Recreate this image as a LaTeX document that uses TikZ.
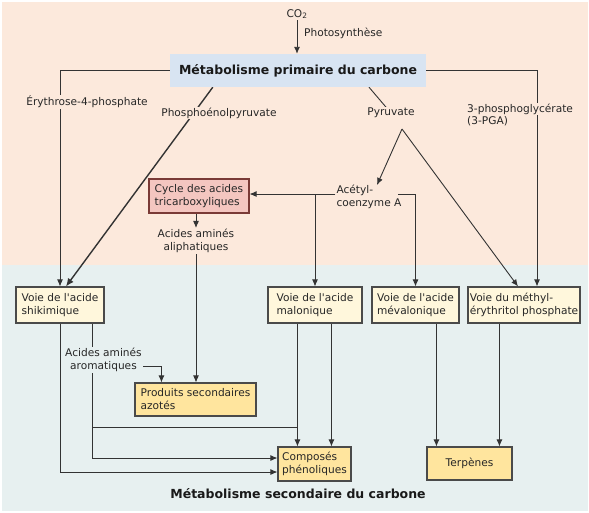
\documentclass[tikz,border=0pt]{standalone}
\usepackage{fontspec}
\setmainfont{DejaVu Sans}
\usetikzlibrary{arrows.meta,calc}
\pgfdeclarelayer{back}
\pgfdeclarelayer{lines}
\pgfsetlayers{back,lines,main}
\definecolor{topbg}{HTML}{FCE9DC}
\definecolor{botbg}{HTML}{E7F0F0}
\definecolor{primbg}{HTML}{D8E4F2}
\definecolor{cyclebg}{HTML}{F4C6C0}
\definecolor{cyclebd}{HTML}{7A3A36}
\definecolor{cream}{HTML}{FFF7DC}
\definecolor{yell}{HTML}{FFE59E}
\definecolor{bd}{HTML}{4A4A4A}
\definecolor{ln}{HTML}{333333}
\begin{document}
\begin{tikzpicture}[x=1pt,y=-1pt,
  txt/.style={font=\fontsize{10.6}{13}\selectfont, inner sep=1pt, align=left, text=black!85},
  lbltop/.style={txt, fill=topbg},
  lblbot/.style={txt, fill=botbg},
  box/.style={txt, draw=bd, line width=1.1pt, fill=cream, inner sep=0pt, align=left},
  ybox/.style={box, fill=yell},
  arr/.style={draw=ln, line width=0.9pt, -{Latex[length=7pt,width=6pt]}},
  ln/.style={draw=ln, line width=0.9pt},
  thickarr/.style={draw=ln, line width=1.4pt, -{Latex[length=8pt,width=7pt]}},
  title/.style={font=\bfseries\fontsize{12.5}{15}\selectfont, text=black!90}
]
\useasboundingbox (0,0) rectangle (589,512);
\begin{pgfonlayer}{back}
  \fill[white] (0,0) rectangle (589,512);
  \fill[topbg] (1.5,1.5) rectangle (587.5,265);
  \fill[botbg] (1.5,265) rectangle (587.5,510.5);
\end{pgfonlayer}

% boxes
\node[title, fill=primbg, minimum width=256, minimum height=33, inner sep=0pt] (prim) at (298,70.5) {Métabolisme primaire du carbone};
\node[box, fill=cyclebg, draw=cyclebd, minimum width=100, minimum height=34] (cycle) at (199,196) {Cycle des acides\\tricarboxyliques};
\node[box, minimum width=88, minimum height=36] (shik) at (60,305) {Voie de l\textquotesingle acide\\shikimique};
\node[box, minimum width=94, minimum height=36] (malo) at (315,305) {Voie de l\textquotesingle acide\\malonique};
\node[box, minimum width=87, minimum height=36] (meva) at (415.5,305) {Voie de l\textquotesingle acide\\mévalonique};
\node[box, minimum width=112, minimum height=36] (mep) at (524,305) {Voie du méthyl-\\érythritol phosphate};
\node[ybox, minimum width=121, minimum height=33] (prod) at (195.5,399.5) {Produits secondaires\\azotés};
\node[ybox, minimum width=73, minimum height=34] (comp) at (314.5,464) {Composés\\phénoliques};
\node[ybox, minimum width=85, minimum height=33] (terp) at (469.5,463.5) {Terpènes};

% labels
\node[txt] (co2) at (297,14) {CO\textsubscript{2}};
\node[txt, anchor=west] (photo) at (303,33) {Photosynthèse};
\node[lbltop] (ery) at (87,102) {Érythrose-4-phosphate};
\node[lbltop] (pep) at (219,113) {Phosphoénolpyruvate};
\node[lbltop] (pyr) at (391,113) {Pyruvate};
\node[lbltop, anchor=west, label={[txt, anchor=north west, inner sep=1pt]south west:(3-PGA)}] (pga) at (466,109) {3-phosphoglycérate};
\node[txt] (acetyl) at (369,197) {Acétyl-\\coenzyme A};
\node[lbltop, align=center] (aliph) at (196,241) {Acides aminés\\aliphatiques};
\node[lblbot, align=center] (arom) at (103.5,360) {Acides aminés\\aromatiques};
\node[title] (sec) at (298,494) {Métabolisme secondaire du carbone};

% helper coordinates
\coordinate (pyrb) at (402,129);
\coordinate (acr) at (398,194);
\coordinate (pepstart) at ($(prim.south west)+(43,0)$);
\coordinate (pepend) at ($(shik.north)+(6,0)$);
\coordinate (pyrstart) at ($(prim.south)+(71,0)$);
\coordinate (pgaend) at ($(mep.north)+(13,0)$);
\coordinate (mepin) at ($(mep.north)+(-6,0)$);
\coordinate (acin) at ($(acetyl.north)+(8,1)$);
\coordinate (sk2) at ($(shik.south)+(32,0)$);
\coordinate (c1) at ($(comp.north west)+(20,0)$);
\coordinate (c2) at ($(comp.north west)+(54,0)$);
\coordinate (cj) at ($(comp.north west)+(20,-19)$);
\coordinate (t1) at ($(terp.north west)+(10,0)$);
\coordinate (t2) at ($(terp.north west)+(73,0)$);
\coordinate (p1) at ($(prod.north west)+(27,0)$);

\begin{pgfonlayer}{lines}
  \draw[arr] (co2.south) -- (co2.south |- prim.north);
  \draw[arr] (prim.west) -| (shik.north);
  \draw[thickarr] (pepstart) -- (pepend);
  \draw[arr] (prim.east) -| (pgaend);
  \draw[ln] (pyrstart) -- (pyr.center);
  \draw[arr] (pyrb) -- (acin);
  \draw[arr] (pyrb) -- (mepin);
  \draw[arr] (acetyl.west |- acr) -- (cycle.east |- acr);
  \draw[arr] (malo.north |- acr) -- (malo.north);
  \draw[arr] (acr) -| (meva.north);
  \draw[arr] (aliph.north |- cycle.south) -- (aliph.north);
  \draw[arr] (aliph.south) -- (aliph.south |- prod.north);
  \draw[arr] ([yshift=-6pt]arom.east) -| (p1);
  \draw[arr] (shik.south) |- ($(comp.west)+(0,8)$);
  \draw[arr] (sk2) |- ($(comp.west)+(0,-6)$);
  \draw[ln] (sk2) |- (cj);
  \draw[arr] (c1 |- malo.south) -- (c1);
  \draw[arr] (c2 |- malo.south) -- (c2);
  \draw[arr] (t1 |- meva.south) -- (t1);
  \draw[arr] (t2 |- mep.south) -- (t2);
\end{pgfonlayer}
\end{tikzpicture}
\end{document}
